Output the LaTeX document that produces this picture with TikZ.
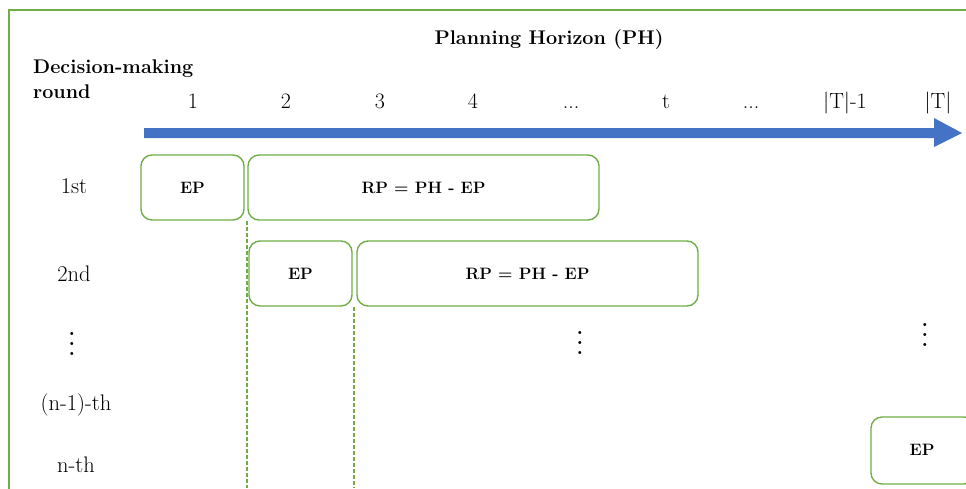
\documentclass[tikz,border=0pt]{standalone}
\usepackage{fontspec}
\begin{document}
\definecolor{frgreen}{RGB}{112,173,71}
\definecolor{arblue}{RGB}{68,114,196}
\newcommand\myvdots{\vbox{\baselineskip=10pt\lineskiplimit=-10pt\hbox{.}\hbox{.}\hbox{.}}}
\begin{tikzpicture}[x=1pt,y=-1pt,
  box/.style={draw=frgreen,line width=1.4pt,rounded corners=11pt,inner sep=0pt,font=\fontsize{16.5}{19}\selectfont\bfseries},
  tick/.style={font=\fontsize{22}{26}\selectfont,inner sep=0pt,anchor=base},
  rowlab/.style={font=\fontsize{22.5}{26}\selectfont,inner sep=0pt},
  dotsl/.style={font=\fontsize{21}{25}\selectfont\bfseries,inner sep=0pt,anchor=north},
  title/.style={font=\fontsize{19.8}{23}\selectfont\bfseries,inner sep=0pt},
  guide/.style={draw=frgreen,line width=1.3pt,dash pattern=on 4pt off 2pt}]
\useasboundingbox (0,0) rectangle (966,488);
\begin{scope}
\clip (0,0) rectangle (966,488);
\draw[frgreen,line width=1.5pt] (9,10) rectangle (990,500);
% arrow
\fill[arblue] (144,128) -- (934,128) -- (934,118) -- (962,133) -- (934,147) -- (934,138) -- (144,138) -- cycle;
% boxes
\node[box,minimum width=103pt,minimum height=65pt] (ep1) at (192.5,187.5) {EP};
\node[box,minimum width=351pt,minimum height=65pt] (rp1) at (423.5,187.5) {RP = PH - EP};
\node[box,minimum width=103pt,minimum height=65pt] (ep2) at (300.5,273.5) {EP};
\node[box,minimum width=341pt,minimum height=65pt] (rp2) at (527.5,273.5) {RP = PH - EP};
\node[box,minimum width=104pt,minimum height=67pt] (epn) at (923,450.5) {};
\node[font=\fontsize{16.5}{19}\selectfont\bfseries,inner sep=0pt] (epnt) at (922,450) {EP};
\coordinate (d1) at (247,488);
\coordinate (d2) at (354,488);
\draw[guide] (247,221) -- (d1);
\draw[guide] (354,307) -- (d2);
\end{scope}
% title
\node[title] (ph) at (549,40) {Planning Horizon (PH)};
\node[title,anchor=base west] (dm1) at (33,73) {Decision-making};
\node[title,anchor=base west] (dm2) at (33,98) {round};
% ticks
\node[tick] (t1) at (193,108) {1};
\node[tick] (t2) at (286,108) {2};
\node[tick] (t3) at (380,108) {3};
\node[tick] (t4) at (473,108) {4};
\node[tick] (t5) at (571,108) {...};
\node[tick] (t6) at (666,108) {t};
\node[tick] (t7) at (751,108) {...};
\node[tick] (t8) at (845,108) {|T|-1};
\node[tick] (t9) at (938,108) {|T|};
% rows
\node[rowlab] (r1) at (74,186) {1st};
\node[rowlab] (r2) at (74,274) {2nd};
\node[rowlab] (r4) at (76,405) {(n-1)-th};
\node[rowlab] (r5) at (76,465) {n-th};
\node[dotsl] (r3) at (72,332) {\myvdots};
\node[dotsl] (v1) at (580,331) {\myvdots};
\node[dotsl] (v2) at (925,323) {\myvdots};
\end{tikzpicture}
\end{document}
